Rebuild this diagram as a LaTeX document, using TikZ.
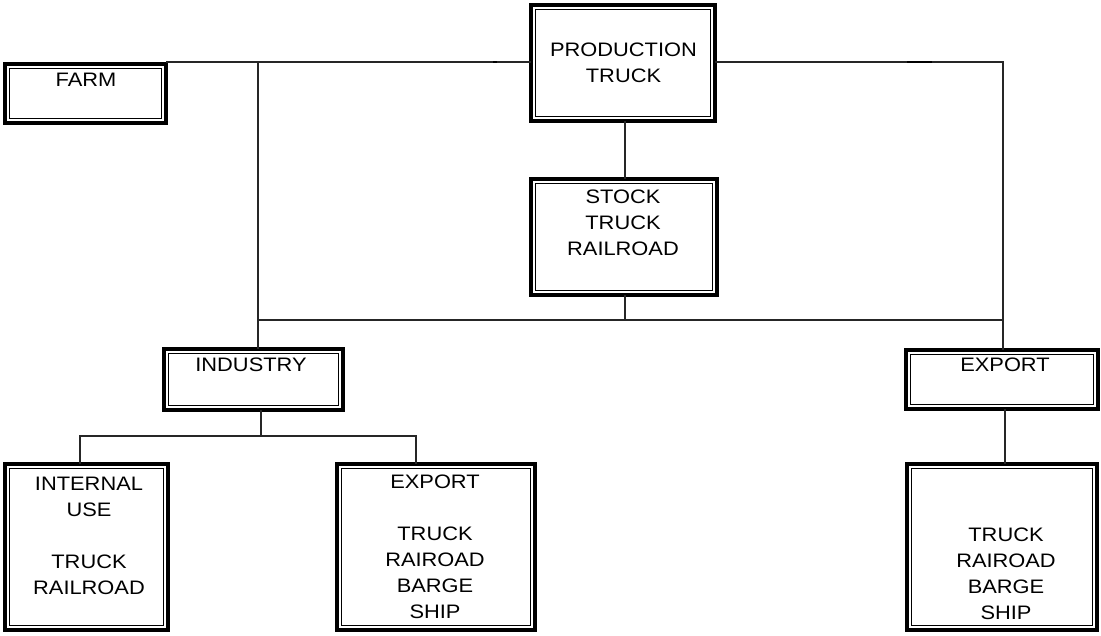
\documentclass[tikz,border=0pt]{standalone}
\usepackage{fontspec}
\setmainfont[FakeStretch=1.12]{Liberation Sans}
\begin{document}
\begin{tikzpicture}[x=1pt,y=-1pt,
  box/.style={draw, line width=3.8pt, outer sep=0pt, inner sep=0pt},
  innerbox/.style={line width=1.8pt},
  conn/.style={line width=1.1pt, draw=black!85},
  lbl/.style={anchor=north, inner sep=0pt, align=center, font=\fontsize{19.5}{26}\selectfont}]
\useasboundingbox (0,0) rectangle (1101,635);
% boxes
\node[box, minimum width=161.2pt, minimum height=59.2pt]  (farm)  at (85.5,93.5) {};
\node[box, minimum width=184.2pt, minimum height=116.2pt] (prod)  at (623,63) {};
\node[box, minimum width=186.2pt, minimum height=116.2pt] (stock) at (624,237) {};
\node[box, minimum width=179.2pt, minimum height=61.2pt]  (ind)   at (253.5,379.5) {};
\node[box, minimum width=192.2pt, minimum height=59.2pt]  (expa)  at (1002,379.5) {};
\node[box, minimum width=163.2pt, minimum height=166.2pt] (int)   at (86.5,547) {};
\node[box, minimum width=198.2pt, minimum height=166.2pt] (expb)  at (436,547) {};
\node[box, minimum width=190.2pt, minimum height=166.2pt] (expc)  at (1002,547) {};
\foreach \n in {farm,prod,stock,ind,expa,int,expb,expc}
  \draw[innerbox] ([xshift=4.6pt,yshift=-4.6pt]\n.north west) rectangle ([xshift=-4.6pt,yshift=4.6pt]\n.south east);
% labels
\node[lbl] (farmT)  at (86,73)    {FARM};
\node[lbl] (prodT)  at (623.5,42.5) {PRODUCTION\\TRUCK};
\node[lbl] (stockT) at (623,190)  {STOCK\\TRUCK\\RAILROAD};
\node[lbl] (indT)   at (251,358)  {INDUSTRY};
\node[lbl] (expaT)  at (1005,358) {EXPORT};
\node[lbl] (intT)   at (89,477)   {INTERNAL\\USE\\\mbox{}\\TRUCK\\RAILROAD};
\node[lbl] (expbT)  at (435,475)  {EXPORT\\\mbox{}\\TRUCK\\RAIROAD\\BARGE\\SHIP};
\node[lbl] (expcT)  at (1006,528) {TRUCK\\RAIROAD\\BARGE\\SHIP};
% junction coordinates
\coordinate (tl) at (258,62);
\coordinate (tr) at (1003,62);
\coordinate (ml) at (258,320);
\coordinate (mm) at (625,320);
\coordinate (mr) at (1003,320);
\coordinate (ib) at (261,436);
\coordinate (il) at (80,436);
\coordinate (ir) at (416,436);
\coordinate (eb) at (1005,436);
% connectors
\draw[conn] (farm.east |- tl) -- (prod.west |- tl);
\draw[conn] (prod.east |- tr) -- (tr) -- (expa.north -| tr);
\draw[conn] (tl) -- (ind.north -| tl);
\draw[conn] (prod.south -| mm) -- (stock.north -| mm);
\draw[conn] (stock.south -| mm) -- (mm);
\draw[conn] (ml) -- (mr);
\draw[conn] (ind.south -| ib) -- (ib);
\draw[conn] (int.north -| il) -- (il) -- (ir) -- (expb.north -| ir);
\draw[conn] (expa.south -| eb) -- (expc.north -| eb);
% small thicker spots on the top line
\draw[line width=2pt] (907,62) -- (932,62);
\draw[line width=2pt] (493,62) -- (497,62);
\end{tikzpicture}
\end{document}
